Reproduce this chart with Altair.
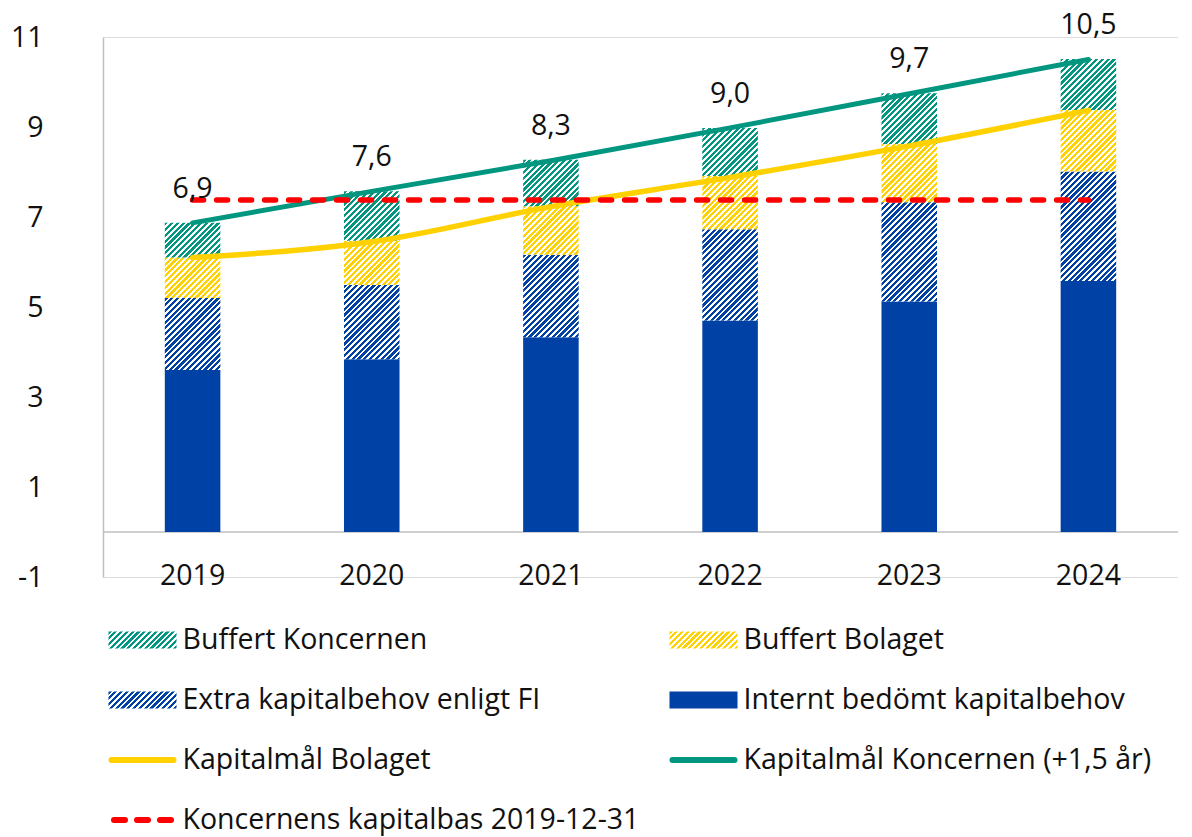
import altair as alt
import pandas as pd

# ---------------- data ----------------
years = ["2019", "2020", "2021", "2022", "2023", "2024"]
internt_kapitalbehov = [3.60, 3.84, 4.33, 4.70, 5.12, 5.58]
extra_kapitalbehov_fi = [1.60, 1.65, 1.83, 2.03, 2.21, 2.43]
buffert_bolaget = [0.90, 0.98, 1.08, 1.18, 1.29, 1.37]
buffert_koncernen = [0.77, 1.10, 1.03, 1.07, 1.13, 1.13]
kapitalmal_bolaget = [6.10, 6.45, 7.23, 7.88, 8.58, 9.37]
kapitalmal_koncernen = [6.87, 7.57, 8.25, 8.98, 9.74, 10.50]
kapitalbas_2019 = [7.38, 7.38, 7.38, 7.38, 7.38, 7.38]
total_labels = ["6,9", "7,6", "8,3", "9,0", "9,7", "10,5"]
y_ticks = [-1, 1, 3, 5, 7, 9, 11]

S_KONC = "Buffert Koncernen"
S_BOL = "Buffert Bolaget"
S_EXTRA = "Extra kapitalbehov enligt FI"
S_INT = "Internt bedömt kapitalbehov"
L_BOL = "Kapitalmål Bolaget"
L_KONC = "Kapitalmål Koncernen (+1,5 år)"
L_BAS = "Koncernens kapitalbas 2019-12-31"

legend_names = [S_KONC, S_BOL, S_EXTRA, S_INT, L_BOL, L_KONC, L_BAS]
legend_cols = [0, 1, 0, 1, 0, 1, 0]
legend_rows = [0, 0, 1, 1, 2, 2, 3]

# ---------------- style ----------------
FONT = "Open Sans"
FS = 28.5
TXT = "#111111"
NAVY = "#0041A6"
TEAL = "#00967F"
YELLOW = "#FFD100"
RED = "#FF0000"
GRID_GRAY = "#BFBFBF"

W, H = 1075, 540
PX_PER_UNIT = H / 12.0
BAR_W = W / 6.0 * 0.31

# hatch (diagonal stripes) via repeating hard-stop linear gradient
N_STRIPES = 36
PERIOD = 4.1
L = N_STRIPES * PERIOD
SQ2 = 1.41421356


def hatch_stops(color, duty=0.55):
    out = []
    for i in range(N_STRIPES):
        a = i / N_STRIPES
        b = (i + duty) / N_STRIPES
        c = (i + 1) / N_STRIPES
        out += [(a, color), (b, color), (b, "#ffffff"), (c, "#ffffff")]
    return out


def hatch_expr(color):
    stops = ",".join("{offset:%.5f,color:'%s'}" % (o, c) for o, c in hatch_stops(color))
    h = "(abs(datum.hi - datum.lo) * %.4f)" % PX_PER_UNIT
    w = BAR_W
    den = "(%.4f + %s * %s)" % (w * w, h, h)
    x2 = "%.4f / %s" % (SQ2 * L * w, den)
    y2 = "%.4f * %s / %s" % (SQ2 * L, h, den)
    return "{gradient:'linear',x1:0,y1:0,x2:%s,y2:%s,stops:[%s]}" % (x2, y2, stops)


def legend_gradient(color, w=68.0, h=17.0):
    den = w * w + h * h
    return {
        "gradient": "linear",
        "x1": 0, "y1": 0,
        "x2": SQ2 * L * w / den,
        "y2": SQ2 * L * h / den,
        "stops": [{"offset": round(o, 5), "color": c} for o, c in hatch_stops(color)],
    }


# ---------------- tables ----------------
rows = []
for i, yr in enumerate(years):
    lo = 0.0
    for name, vals in [(S_INT, internt_kapitalbehov), (S_EXTRA, extra_kapitalbehov_fi),
                       (S_BOL, buffert_bolaget), (S_KONC, buffert_koncernen)]:
        hi = lo + vals[i]
        rows.append({"year": yr, "series": name, "lo": lo, "hi": hi})
        lo = hi
bars = pd.DataFrame(rows)

lines = pd.DataFrame({
    "year": years,
    "bolaget": kapitalmal_bolaget,
    "koncernen": kapitalmal_koncernen,
    "bas": kapitalbas_2019,
    "label": total_labels,
    "total": [a + b + c + d for a, b, c, d in zip(internt_kapitalbehov, extra_kapitalbehov_fi,
                                                 buffert_bolaget, buffert_koncernen)],
})
zero = pd.DataFrame({"z": [0.0]})
leg = pd.DataFrame({"name": legend_names, "col": legend_cols, "row": legend_rows})

# ---------------- encodings ----------------
x_scale = alt.Scale(domain=years, paddingInner=0.69, paddingOuter=0.345)
y_scale = alt.Scale(domain=[-1, 11], nice=False, zero=False)
x_axis = alt.Axis(title=None, ticks=False, tickSize=0, domain=False, labelAngle=0,
                  labelPadding=8, offset=-10, labelBaseline="middle",
                  labelFontSize=FS, labelFont=FONT, labelColor=TXT, grid=False)
y_axis = alt.Axis(title=None, values=y_ticks, ticks=False, tickSize=0, grid=False,
                  labelPadding=60, domainColor=GRID_GRAY, domainWidth=1.5,
                  labelFontSize=FS, labelFont=FONT, labelColor=TXT,
                  labelExpr="'' + datum.value")


def X():
    return alt.X("year:N", scale=x_scale, axis=x_axis, sort=years)


def Y(field):
    return alt.Y(field, scale=y_scale, axis=y_axis)


rule0 = alt.Chart(zero).mark_rule(color=GRID_GRAY, strokeWidth=1.5).encode(y=Y("z:Q"))

base_bar = alt.Chart(bars)


def bar_layer(name, fill):
    return base_bar.transform_filter(alt.datum.series == name).mark_bar(fill=fill).encode(
        x=X(), y=Y("lo:Q"), y2="hi:Q")


b_int = bar_layer(S_INT, NAVY)
b_extra = bar_layer(S_EXTRA, {"expr": hatch_expr(NAVY)})
b_bol = bar_layer(S_BOL, {"expr": hatch_expr(YELLOW)})
b_konc = bar_layer(S_KONC, {"expr": hatch_expr(TEAL)})

line_base = alt.Chart(lines)
l_bol = line_base.mark_line(color=YELLOW, strokeWidth=5.5, interpolate="monotone",
                            strokeCap="round").encode(x=X(), y=Y("bolaget:Q"))
l_konc = line_base.mark_line(color=TEAL, strokeWidth=5, strokeCap="round").encode(
    x=X(), y=Y("koncernen:Q"))
l_bas = line_base.mark_line(color=RED, strokeWidth=5.5, strokeDash=[11, 13],
                            strokeCap="round").encode(x=X(), y=Y("bas:Q"))
labels = line_base.mark_text(font=FONT, fontSize=FS, color=TXT, baseline="middle",
                             dy=-34).encode(x=X(), y=Y("total:Q"), text="label:N")

main = alt.layer(rule0, b_int, b_extra, b_bol, b_konc, l_bol, l_konc, l_bas, labels)

# ---------------- legend (own scales, drawn below the plot) ----------------
LX = [-39.5 / 561.0, -39.5 / 561.0 + W / 561.0]
LY = [-603.0 / 60.0, -603.0 / 60.0 + H / 60.0]


def LXe():
    return alt.X("col:Q", scale=alt.Scale(domain=LX, nice=False, zero=False), axis=None)


def LYe():
    return alt.Y("row:Q", scale=alt.Scale(domain=LY, nice=False, zero=False, reverse=True), axis=None)


RECT_PATH = "M-1,-0.25H1V0.25H-1Z"
LINE_PATH = "M-1,0H1"
legb = alt.Chart(leg)


def leg_rect(name, fill):
    return legb.transform_filter(alt.datum.name == name).mark_point(
        shape=RECT_PATH, size=68 * 68, filled=True, fill=fill, strokeWidth=0, opacity=1
    ).encode(x=LXe(), y=LYe())


def leg_line(name, color, size, dash=None):
    kw = dict(shape=LINE_PATH, size=size, filled=False, stroke=color, strokeWidth=6,
              strokeCap="round", opacity=1)
    if dash:
        kw["strokeDash"] = dash
    return legb.transform_filter(alt.datum.name == name).mark_point(**kw).encode(x=LXe(), y=LYe())


legend = alt.layer(
    leg_rect(S_KONC, legend_gradient(TEAL)),
    leg_rect(S_BOL, legend_gradient(YELLOW)),
    leg_rect(S_EXTRA, legend_gradient(NAVY)),
    leg_rect(S_INT, NAVY),
    leg_line(L_BOL, YELLOW, 62 * 62),
    leg_line(L_KONC, TEAL, 62 * 62),
    leg_line(L_BAS, RED, 57 * 57, [11, 12]),
    legb.mark_text(font=FONT, fontSize=FS, color=TXT, align="left", baseline="middle",
                   dx=40).encode(x=LXe(), y=LYe(), text="name:N"),
)

chart = alt.layer(main, legend).resolve_scale(x="independent", y="independent").properties(
    width=W, height=H,
    padding={"left": 95, "top": 29, "right": 0, "bottom": 270},
    autosize=alt.AutoSizeParams(type="none"),
).configure_view(stroke="transparent").configure(font=FONT)

chart.save("out.html", embed_options={"renderer": "svg", "actions": False})
